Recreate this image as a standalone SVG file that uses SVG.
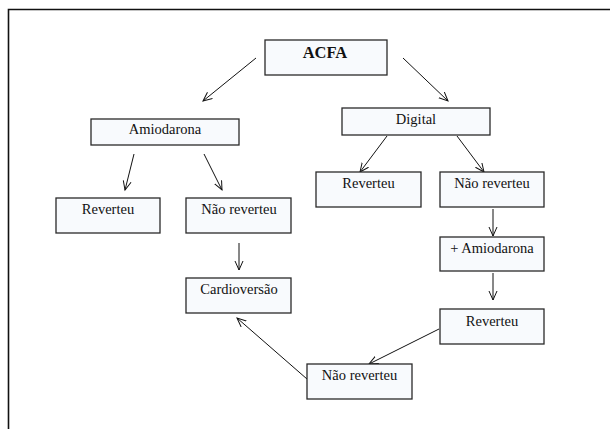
<svg xmlns="http://www.w3.org/2000/svg" width="610" height="429" viewBox="0 0 610 429">
<style>
.box{fill:#f8fafd;stroke:#2a2a2a;stroke-width:1.3}
.t{font-family:"Liberation Serif","Times New Roman",serif;font-size:14.5px;fill:#111;text-anchor:middle}
.b{font-weight:bold;font-size:16.5px}
.c{stroke:#111;stroke-width:1;fill:none;marker-end:url(#ah)}
</style>
<defs>
<marker id="ah" markerUnits="userSpaceOnUse" markerWidth="12" markerHeight="12" refX="9" refY="4.5" orient="auto">
<path d="M0,0.5 L9,4.5 L0,8.5" fill="none" stroke="#111" stroke-width="1"/>
</marker>
</defs>
<rect width="610" height="429" fill="#fff"/>
<path d="M8.5,429 V9.5 H610" fill="none" stroke="#111" stroke-width="1.6"/>
<g id="connectors">
<line class="c" x1="256" y1="58" x2="203" y2="101"/>
<line class="c" x1="403" y1="58" x2="448" y2="101"/>
<line class="c" x1="134" y1="154" x2="125" y2="190"/>
<line class="c" x1="204" y1="154" x2="222" y2="190"/>
<line class="c" x1="387" y1="136" x2="360" y2="172"/>
<line class="c" x1="457" y1="136" x2="484" y2="172"/>
<line class="c" x1="239" y1="243" x2="239" y2="270"/>
<line class="c" x1="493" y1="209" x2="493" y2="236"/>
<line class="c" x1="493" y1="273" x2="493" y2="300"/>
<line class="c" x1="439" y1="329" x2="369" y2="364"/>
<line class="c" x1="307" y1="379" x2="237" y2="318"/>
</g>
<g id="acfa"><rect class="box" x="265" y="40" width="122" height="35"/><text class="t b" x="325" y="58">ACFA</text></g>
<g id="amiodarona"><rect class="box" x="91" y="119" width="148" height="26"/><text class="t" x="165" y="134">Amiodarona</text></g>
<g id="digital"><rect class="box" x="342" y="108" width="148" height="27"/><text class="t" x="416" y="124">Digital</text></g>
<g id="reverteu1"><rect class="box" x="56" y="198" width="104" height="35"/><text class="t" x="108" y="214">Reverteu</text></g>
<g id="naoreverteu1"><rect class="box" x="186" y="198" width="105" height="35"/><text class="t" x="239" y="214">Não reverteu</text></g>
<g id="reverteu2"><rect class="box" x="316" y="172" width="105" height="35"/><text class="t" x="368.5" y="188">Reverteu</text></g>
<g id="naoreverteu2"><rect class="box" x="440" y="172" width="104" height="35"/><text class="t" x="492" y="188">Não reverteu</text></g>
<g id="mais-amiodarona"><rect class="box" x="440" y="237" width="104" height="34"/><text class="t" x="492" y="252.5">+ Amiodarona</text></g>
<g id="cardioversao"><rect class="box" x="186" y="278" width="105" height="35"/><text class="t" x="239" y="294">Cardioversão</text></g>
<g id="reverteu3"><rect class="box" x="440" y="309" width="104" height="35"/><text class="t" x="492" y="325.5">Reverteu</text></g>
<g id="naoreverteu3"><rect class="box" x="307" y="364" width="105" height="35"/><text class="t" x="359.5" y="380">Não reverteu</text></g>
</svg>
